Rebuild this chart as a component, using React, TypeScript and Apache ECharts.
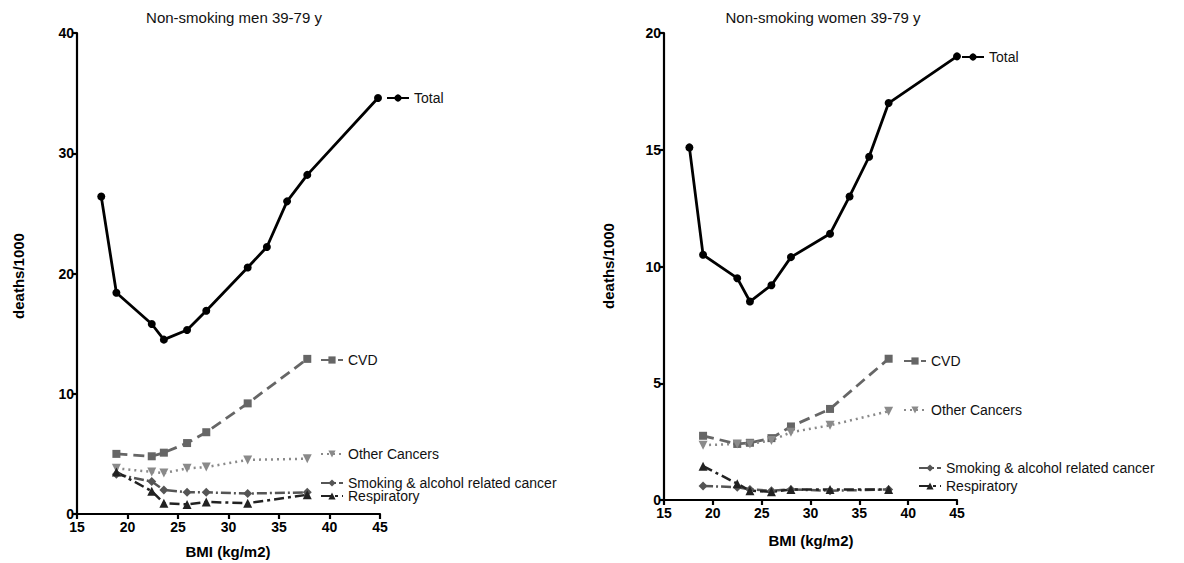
import React, { useEffect, useRef } from "react";
import * as echarts from "echarts";

// ---------- data ----------
const menTotalBmi = [17.4, 18.9, 22.4, 23.6, 25.9, 27.8, 31.9, 33.8, 35.8, 37.8, 44.8];
const menTotal = [26.4, 18.4, 15.8, 14.5, 15.3, 16.9, 20.5, 22.2, 26.0, 28.2, 34.6];
const menBmi = [18.9, 22.4, 23.6, 25.9, 27.8, 31.9, 37.8];
const menCvd = [5.0, 4.8, 5.1, 5.9, 6.8, 9.2, 12.9];
const menOther = [3.8, 3.5, 3.4, 3.8, 3.9, 4.5, 4.6];
const menSmoking = [3.3, 2.7, 2.0, 1.8, 1.8, 1.7, 1.8];
const menResp = [3.5, 1.9, 0.9, 0.8, 1.0, 0.9, 1.6];

const womenTotalBmi = [17.6, 19.0, 22.5, 23.8, 26.0, 28.0, 32.0, 34.0, 36.0, 38.0, 45.0];
const womenTotal = [15.1, 10.5, 9.5, 8.5, 9.2, 10.4, 11.4, 13.0, 14.7, 17.0, 19.0];
const womenBmi = [19.0, 22.5, 23.8, 26.0, 28.0, 32.0, 38.0];
const womenCvd = [2.75, 2.4, 2.45, 2.65, 3.15, 3.9, 6.05];
const womenOther = [2.35, 2.4, 2.4, 2.55, 2.9, 3.2, 3.8];
const womenSmoking = [0.6, 0.55, 0.45, 0.4, 0.45, 0.4, 0.45];
const womenResp = [1.45, 0.7, 0.4, 0.35, 0.45, 0.45, 0.45];

const xTicks = [15, 20, 25, 30, 35, 40, 45];
const titles = ["Non-smoking men 39-79 y", "Non-smoking women 39-79 y"];
const seriesNames = ["Total", "CVD", "Other Cancers", "Smoking & alcohol related cancer", "Respiratory"];

const FONT = "'Liberation Sans', Arial, Helvetica, sans-serif";

const zip = (xs: number[], ys: number[]) => xs.map((x, i) => [x, ys[i]]);

const styles: Record<string, any> = {
  Total: { color: "#000000", symbol: "circle", symbolSize: 8, line: { type: "solid", width: 2.8 } },
  CVD: { color: "#666666", symbol: "rect", symbolSize: 8, line: { type: [11, 6], width: 2.8 } },
  "Other Cancers": { color: "#8a8a8a", symbol: "triangle", symbolRotate: 180, symbolSize: 9, line: { type: [2, 4], width: 2.5 } },
  "Smoking & alcohol related cancer": { color: "#555555", symbol: "diamond", symbolSize: 9, line: { type: [10, 3, 2, 3], width: 2.5 } },
  Respiratory: { color: "#222222", symbol: "triangle", symbolSize: 9, line: { type: [10, 4, 3, 4], width: 2.5 } },
};

function mkSeries(name: string, idx: number, data: number[][]) {
  const s = styles[name];
  return {
    type: "line",
    name,
    xAxisIndex: idx,
    yAxisIndex: idx,
    data,
    symbol: s.symbol,
    symbolSize: s.symbolSize,
    symbolRotate: s.symbolRotate || 0,
    clip: false,
    itemStyle: { color: s.color },
    lineStyle: { color: s.color, type: s.line.type, width: s.line.width },
  };
}

function mkLegend(name: string, left: number, centerY: number) {
  return {
    data: [name],
    left,
    top: centerY - 6,
    padding: 0,
    itemWidth: 22,
    itemHeight: 9,
    selectedMode: false,
    textStyle: { fontSize: 14, lineHeight: 12, color: "#111", fontFamily: FONT },
  };
}

export default function App() {
  const ref = useRef<HTMLDivElement>(null);
  useEffect(() => {
    if (!ref.current) return;
    const chart = echarts.init(ref.current, undefined, { renderer: "svg" });
    const axisCommon = {
      axisLine: { show: true, lineStyle: { color: "#000", width: 2.2 } },
      axisTick: { show: true, inside: false, length: 5, lineStyle: { color: "#000", width: 2.2 } },
      splitLine: { show: false },
      axisLabel: { color: "#000", fontWeight: "bold", fontSize: 14, fontFamily: FONT, margin: 6 },
    };
    const option: any = {
      animation: false,
      backgroundColor: "#ffffff",
      grid: [
        { left: 77, top: 33, width: 303, height: 481, containLabel: false },
        { left: 664, top: 33, width: 293, height: 467, containLabel: false },
      ],
      xAxis: [0, 1].map((i) => ({
        type: "value",
        gridIndex: i,
        min: xTicks[0],
        max: xTicks[xTicks.length - 1],
        interval: 5,
        ...axisCommon,
      })),
      yAxis: [
        { type: "value", gridIndex: 0, min: 0, max: 40, interval: 10, ...axisCommon, axisLabel: { ...axisCommon.axisLabel, margin: 3 } },
        { type: "value", gridIndex: 1, min: 0, max: 20, interval: 5, ...axisCommon, axisLabel: { ...axisCommon.axisLabel, margin: 3 } },
      ],
      series: [
        mkSeries("Total", 0, zip(menTotalBmi, menTotal)),
        mkSeries("CVD", 0, zip(menBmi, menCvd)),
        mkSeries("Other Cancers", 0, zip(menBmi, menOther)),
        mkSeries("Smoking & alcohol related cancer", 0, zip(menBmi, menSmoking)),
        mkSeries("Respiratory", 0, zip(menBmi, menResp)),
        mkSeries("Total", 1, zip(womenTotalBmi, womenTotal)),
        mkSeries("CVD", 1, zip(womenBmi, womenCvd)),
        mkSeries("Other Cancers", 1, zip(womenBmi, womenOther)),
        mkSeries("Smoking & alcohol related cancer", 1, zip(womenBmi, womenSmoking)),
        mkSeries("Respiratory", 1, zip(womenBmi, womenResp)),
      ],
      legend: [
        mkLegend(seriesNames[0], 386, 97),
        mkLegend(seriesNames[1], 320, 359),
        mkLegend(seriesNames[2], 320, 453),
        mkLegend(seriesNames[3], 320, 482),
        mkLegend(seriesNames[4], 320, 495),
        mkLegend(seriesNames[0], 961, 56),
        mkLegend(seriesNames[1], 903, 360),
        mkLegend(seriesNames[2], 903, 409),
        mkLegend(seriesNames[3], 918, 467),
        mkLegend(seriesNames[4], 918, 485),
      ],
      graphic: [
        { type: "text", x: 234, y: 17, style: { text: titles[0], font: `15px ${FONT}`, fill: "#111", textAlign: "center", textVerticalAlign: "middle" } },
        { type: "text", x: 823, y: 17, style: { text: titles[1], font: `15px ${FONT}`, fill: "#111", textAlign: "center", textVerticalAlign: "middle" } },
        { type: "text", x: 228, y: 551, style: { text: "BMI (kg/m2)", font: `bold 15px ${FONT}`, fill: "#000", textAlign: "center", textVerticalAlign: "middle" } },
        { type: "text", x: 811, y: 540, style: { text: "BMI (kg/m2)", font: `bold 15px ${FONT}`, fill: "#000", textAlign: "center", textVerticalAlign: "middle" } },
        { type: "text", x: 18, y: 276, rotation: Math.PI / 2, style: { text: "deaths/1000", font: `bold 15px ${FONT}`, fill: "#000", textAlign: "center", textVerticalAlign: "middle" } },
        { type: "text", x: 608, y: 266, rotation: Math.PI / 2, style: { text: "deaths/1000", font: `bold 15px ${FONT}`, fill: "#000", textAlign: "center", textVerticalAlign: "middle" } },
      ],
    };
    chart.setOption(option);
    return () => chart.dispose();
  }, []);
  return <div ref={ref} style={{ position: "fixed", left: 0, top: 0, width: 1184, height: 563 }} />;
}
